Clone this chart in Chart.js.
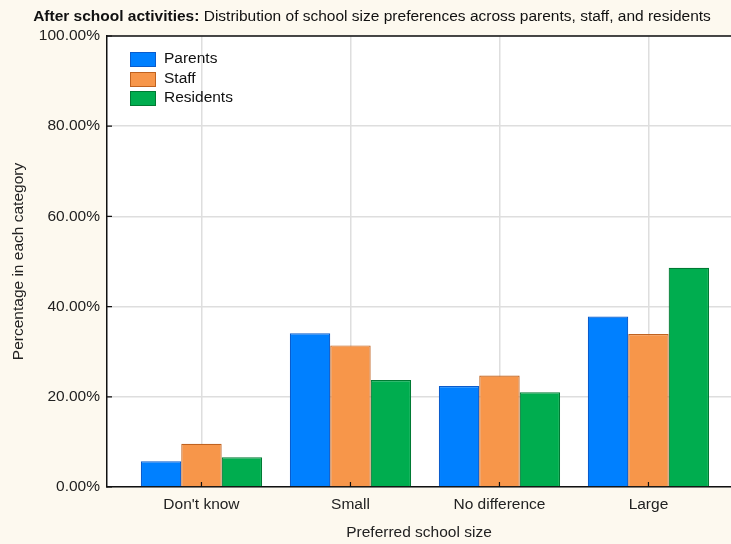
<!DOCTYPE html>
<html><head><meta charset="utf-8">
<script src="https://cdn.jsdelivr.net/npm/chart.js@4"></script>
<style>
html,body{margin:0;padding:0;background:#fdf9ef;}
#wrap{position:relative;width:731px;height:544px;overflow:hidden;background:#fdf9ef;}
#title{position:absolute;left:0;top:7px;width:744px;text-align:center;font:15.5px "Liberation Sans",Arial,sans-serif;color:#111;white-space:nowrap;}
canvas{position:absolute;left:0;top:0;}
#legend{position:absolute;left:130px;top:52px;font:15.5px "Liberation Sans",Arial,sans-serif;color:#111;}
.item{height:19.7px;position:relative;}
.sw{position:absolute;left:0;top:0;width:24px;height:13px;border:1px solid;}
.lab{position:absolute;left:34px;top:-3px;white-space:nowrap;}
</style>
</head><body>
<div id="wrap">
<canvas id="c" width="731" height="544"></canvas>
<div id="title"><b>After school activities:</b> Distribution of school size preferences across parents, staff, and residents</div>
<div id="legend"></div>
</div>
<script>
const categories = ["Don't know", "Small", "No difference", "Large"];
const seriesNames = ["Parents", "Staff", "Residents"];
const parents = [5.7, 34.1, 22.4, 37.8];
const staff = [9.6, 31.4, 24.7, 33.9];
const residents = [6.6, 23.7, 21.0, 48.6];
const yTicks = [0, 20, 40, 60, 80, 100];

const fills = ["#0080ff", "#f7964a", "#00ad4f"];
const borders = ["#0a5ccc", "#c0621f", "#007a33"];
const values = [parents, staff, residents];
const FONT = '"Liberation Sans", Arial, sans-serif';
const FS = 15.5;

const bgPlugin = {
  id: 'bg',
  beforeDraw(chart) {
    const {ctx, chartArea: a} = chart;
    ctx.save();
    ctx.fillStyle = '#ffffff';
    ctx.fillRect(a.left, a.top, a.right - a.left, a.bottom - a.top);
    ctx.restore();
  },
  afterDraw(chart) {
    const {ctx, chartArea: a} = chart;
    ctx.save();
    ctx.strokeStyle = '#111';
    ctx.lineWidth = 1.5;
    ctx.beginPath();
    ctx.moveTo(a.left, a.top); ctx.lineTo(a.right, a.top);
    ctx.stroke();
    ctx.lineWidth = 1.2;
    const ys = chart.scales.y, xs = chart.scales.x;
    ctx.beginPath();
    ys.ticks.forEach(t => {
      const p = ys.getPixelForValue(t.value);
      ctx.moveTo(a.left, p); ctx.lineTo(a.left + 5, p);
    });
    xs.ticks.forEach(t => {
      const p = xs.getPixelForValue(t.value);
      ctx.moveTo(p, a.bottom); ctx.lineTo(p, a.bottom - 5);
    });
    ctx.stroke();
    ctx.restore();
  }
};

new Chart(document.getElementById('c'), {
  type: 'bar',
  data: {
    datasets: seriesNames.map((n, k) => ({
      label: n,
      data: values[k].map((v, i) => ({x: i, y: v})),
      backgroundColor: fills[k],
      borderColor: borders[k],
      borderWidth: 1.2
    }))
  },
  options: {
    responsive: false,
    animation: false,
    layout: {padding: {left: 0, top: 36, right: 0, bottom: 0}},
    plugins: {legend: {display: false}, title: {display: false}, tooltip: {enabled: false}},
    datasets: {bar: {categoryPercentage: 0.814, barPercentage: 1.0}},
    scales: {
      x: {
        type: 'linear', min: -0.634, max: 3.554, offset: false,
        grid: {offset: false, color: '#dedede', lineWidth: 1.5, drawTicks: false},
        border: {color: '#111', width: 1.5},
        afterBuildTicks: s => { s.ticks = categories.map((c, i) => ({value: i})); },
        ticks: {callback: v => categories[v], font: {family: FONT, size: FS}, color: '#222', padding: 8, maxRotation: 0, autoSkip: false},
        title: {display: true, text: 'Preferred school size', font: {family: FONT, size: FS}, color: '#222', padding: {top: 0, bottom: 2}},
        afterFit: s => { s.height = 57; }
      },
      y: {
        min: 0, max: 100,
        afterBuildTicks: s => { s.ticks = yTicks.map(v => ({value: v})); },
        ticks: {callback: v => v.toFixed(2) + '%', font: {family: FONT, size: FS}, color: '#222', padding: 7},
        grid: {color: '#dedede', lineWidth: 1.5, drawTicks: false},
        border: {color: '#111', width: 1.5},
        title: {display: true, text: 'Percentage in each category', font: {family: FONT, size: FS}, color: '#222', padding: {top: 9, bottom: 0}},
        afterFit: s => { s.width = 107; }
      }
    }
  },
  plugins: [bgPlugin]
});

const leg = document.getElementById('legend');
seriesNames.forEach((n, k) => {
  const d = document.createElement('div');
  d.className = 'item';
  d.innerHTML = '<span class="sw" style="background:' + fills[k] + ';border-color:' + borders[k] + '"></span><span class="lab">' + n + '</span>';
  leg.appendChild(d);
});
</script>
</body></html>
